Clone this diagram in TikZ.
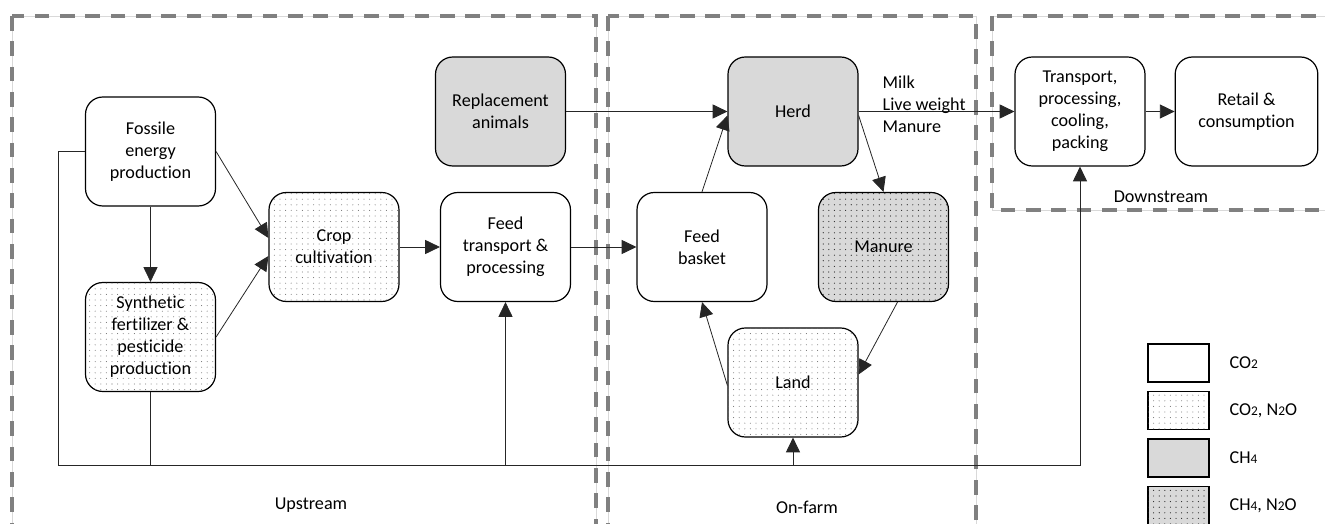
\documentclass[tikz,border=0pt]{standalone}
\usepackage{fontspec}
\setmainfont{Carlito}[Ligatures=NoCommon]
\usetikzlibrary{arrows.meta,calc,patterns.meta}
\newcommand\sm[1]{{\fontsize{10}{10}\selectfont #1}}

\begin{document}
\begin{tikzpicture}[x=0.75pt,y=-0.75pt,
  >={Triangle[length=11pt,width=10.5pt]},
  every node/.style={font=\fontsize{13.6}{16.5}\selectfont},
  zone/.style={preaction={draw=black!15,line width=0.6pt,solid},
    draw=black!50,line width=3pt,dash pattern=on 11pt off 8pt},
  stage/.style={draw,line width=0.9pt,rounded corners=13pt,fill=white,
    minimum width=97.5pt,minimum height=81.75pt,align=center,inner sep=1pt},
  legbox/.style={draw,line width=0.9pt,fill=white,
    minimum width=45.75pt,minimum height=28.5pt},
  co/.style={fill=white},
  con/.style={fill=white,postaction={pattern={Dots[distance=4.2pt,radius=0.4pt]},pattern color=black!55}},
  ch/.style={fill=black!15},
  chn/.style={fill=black!15,postaction={pattern={Dots[distance=4.2pt,radius=0.45pt]},pattern color=black!85}},
  link/.style={draw=black!85,line width=0.6pt}]
\clip (0,0) rectangle (1325,524);

% Zones
\draw[zone] (12,16) rectangle (596,540);
\draw[zone] (608,16) rectangle (976,540);
\draw[zone] (992,16) rectangle (1340,210);
\node (upstream) at (311,505) {Upstream};
\node (onfarm) at (807,507) {On-farm};
\node (downstream) at (1161,197) {Downstream};

% Upstream
\node[stage,co] (fossile) at (150.5,151.5) {Fossile\\energy\\production};
\node[stage,con] (synth) at (150.5,337) {Synthetic\\fertilizer \&\\pesticide\\production};
\node[stage,con] (crop) at (334,247) {Crop\\cultivation};
\node[stage,co] (feedtr) at (505.5,247) {Feed\\transport \&\\processing};
\node[stage,ch] (repl) at (500.5,111.5) {Replacement\\animals};

% On-farm
\node[stage,ch] (herd) at (793,111.5) {Herd};
\node[stage,co] (basket) at (702,247) {Feed\\basket};
\node[stage,chn] (manure) at (883.5,247) {Manure};
\node[stage,con] (land) at (793,382.5) {Land};

% Downstream
\node[stage,co] (transp) at (1080,111.5) {Transport,\\processing,\\cooling,\\packing};
\node[stage,co,minimum width=107pt] (retail) at (1246.5,111.5) {Retail \&\\consumption};

% Legend
\foreach \s/\t [count=\i] in {co/{CO\sm{2}}, con/{CO\sm{2}, N\sm{2}O}, ch/{CH\sm{4}}, chn/{CH\sm{4}, N\sm{2}O}} {
    \node[legbox,\s] (leg\i) at (1178.5,{363+47.5*(\i-1)}) {};
    \node[anchor=west] (lab\i) at (1225,{363+47.5*(\i-1)}) {\t};
}

% Arrows
\draw[link,->] (fossile) -- (synth);
\draw[link,->] (fossile.east) -- ($(crop.west)+(0,-9)$);
\draw[link,->] (synth.east) -- ($(crop.west)+(0,9)$);
\draw[link,->] (crop) -- (feedtr);
\draw[link,->] (feedtr) -- (basket);
\draw[link,->] (repl) -- (herd);
\draw[link,->] (basket.north) -- ($(herd.west)+(0,4)$);
\draw[link,->] ($(herd.east)+(0,4)$) -- (manure.north);
\draw[link,->] ($(manure.south)+(14,0)$) -- ($(land.east)+(0,-8)$);
\draw[link,->] ($(land.west)+(0,3)$) -- (basket.south);
\draw[link,->] (herd) -- (transp);
\draw[link,->] (transp) -- (retail);
\node[anchor=west,align=left] (prod) at (878,104) {Milk\\Live weight\\Manure};

% Energy line
\coordinate (busL) at (58,465);
\coordinate (busR) at (1080,465);
\draw[link,->] (fossile.west) -| (busL) -- (busR) -- (transp.south);
\draw[link] (synth.south) -- (synth.south |- busL);
\draw[link,->] (feedtr.south |- busL) -- (feedtr.south);
\draw[link,->] (land.south |- busL) -- (land.south);
\end{tikzpicture}
\end{document}
